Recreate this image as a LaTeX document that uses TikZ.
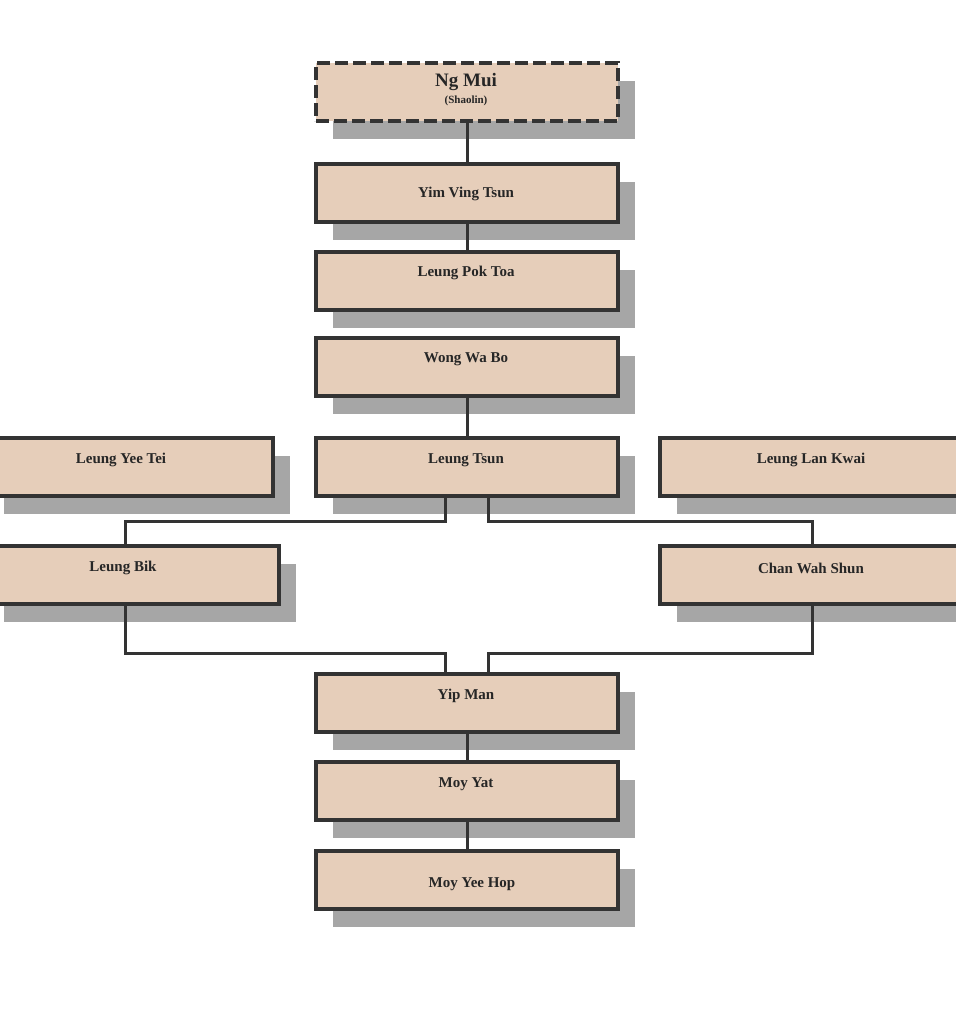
\documentclass[tikz,border=0pt]{standalone}
\usepackage{fontspec}
\setmainfont{Liberation Serif}
\begin{document}
\begin{tikzpicture}[x=1pt,y=-1pt,
  box/.style={draw=black!80,line width=4pt,fill=boxc,minimum width=#1,minimum height=58pt,inner sep=0pt,
    preaction={fill=black!35,transform canvas={xshift=17pt,yshift=-18pt}}},
  box/.default=302pt,
  lbl/.style={font=\bfseries\fontsize{15}{16}\selectfont,text=black!85},
  conn/.style={draw=black!80,line width=3pt}]
\definecolor{boxc}{RGB}{230,206,186}
\useasboundingbox (0,0) rectangle (956,1018);
\coordinate (l1) at (445,521); \coordinate (l2) at (125,521);
\coordinate (r1) at (488,521); \coordinate (r2) at (812,521);
\coordinate (b1) at (125,653); \coordinate (b2) at (445,653);
\coordinate (c1) at (812,653); \coordinate (c2) at (488,653);
\node[box,dash pattern=on 13pt off 5pt] (ng) at (467,92) {};
\node[box] (yim) at (467,193) {};
\node[box] (lpt) at (467,281) {};
\node[box] (wwb) at (467,367) {};
\node[box] (lts) at (467,467) {};
\node[box=286pt] (lyt) at (130,467) {};
\node[box=292pt] (lb) at (133,575) {};
\node[box=300pt] (llk) at (810,467) {};
\node[box=300pt] (cws) at (810,575) {};
\node[box] (yip) at (467,703) {};
\node[box] (my) at (467,791) {};
\node[box] (myh) at (467,880) {};
\draw[conn] (ng.south) -- (yim.north);
\draw[conn] (yim.south) -- (lpt.north);
\draw[conn] (wwb.south) -- (lts.north);
\draw[conn] (lts.south -| l1) -- (l1) -- (l2) -- (lb.north -| l2);
\draw[conn] (lts.south -| r1) -- (r1) -- (r2) -- (cws.north -| r2);
\draw[conn] (lb.south -| b1) -- (b1) -- (b2) -- (yip.north -| b2);
\draw[conn] (cws.south -| c1) -- (c1) -- (c2) -- (yip.north -| c2);
\draw[conn] (yip.south) -- (my.north);
\draw[conn] (my.south) -- (myh.north);
\node[lbl,font=\bfseries\fontsize{19}{20}\selectfont] (t0) at (466,82) {Ng Mui};
\node[lbl,font=\bfseries\fontsize{11}{12}\selectfont] (t0b) at (466,101) {(Shaolin)};
\node[lbl] (t1) at (466,194) {Yim Ving Tsun};
\node[lbl] (t2) at (466,273) {Leung Pok Toa};
\node[lbl] (t3) at (466,359) {Wong Wa Bo};
\node[lbl] (t4) at (466,460) {Leung Tsun};
\node[lbl] (t5) at (121,460) {Leung Yee Tei};
\node[lbl] (t6) at (811,460) {Leung Lan Kwai};
\node[lbl] (t7) at (123,568) {Leung Bik};
\node[lbl] (t8) at (811,568) {Chan Wah Shun};
\node[lbl] (t9) at (466,696) {Yip Man};
\node[lbl] (t10) at (466,784) {Moy Yat};
\node[lbl] (t11) at (472,884) {Moy Yee Hop};
\end{tikzpicture}
\end{document}
